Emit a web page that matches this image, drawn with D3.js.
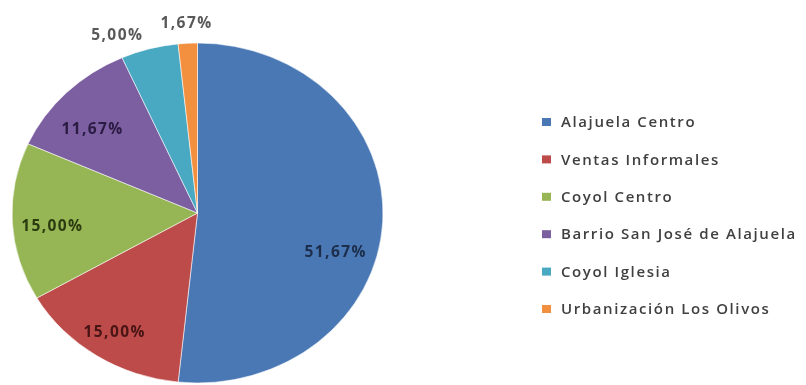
<!DOCTYPE html>
<html>
<head>
<meta charset="utf-8">
<script src="https://cdn.jsdelivr.net/npm/d3@7"></script>
<style>
  html, body { margin: 0; padding: 0; background: #fff; }
  svg { display: block; }
</style>
</head>
<body>
<svg id="chart" width="806" height="385"></svg>
<script>
// Distribution of responses by location (counts out of 60)
const categories = [
  "Alajuela Centro",
  "Ventas Informales",
  "Coyol Centro",
  "Barrio San José de Alajuela",
  "Coyol Iglesia",
  "Urbanización Los Olivos"
];
const counts = [31, 9, 9, 7, 3, 1];
const colors = ["#4A78B4", "#BC4B49", "#96B655", "#7C5EA0", "#48A8C2", "#F2903F"];
const labelColors = ["#1C2E4C", "#4A1414", "#2B3A10", "#2A1A42", "#595959", "#595959"];

const width = 806, height = 385;
const cx = 197.5, cy = 213, r = 170, sx = 1.091;   // pie is drawn slightly wider than tall

const svg = d3.select("#chart");

// soft rendering of the whole chart
const defs = svg.append("defs");
defs.append("filter").attr("id", "soft")
  .attr("x", "-5%").attr("y", "-5%").attr("width", "110%").attr("height", "110%")
  .append("feGaussianBlur").attr("stdDeviation", 0.45);

const root = svg.append("g").attr("filter", "url(#soft)");

const total = d3.sum(counts);
const pie = d3.pie().sort(null).value(d => d)(counts);
const arc = d3.arc().innerRadius(0).outerRadius(r);

const pieG = root.append("g")
  .attr("transform", `translate(${cx},${cy}) scale(${sx},1)`);

pieG.selectAll("path")
  .data(pie)
  .join("path")
  .attr("d", arc)
  .attr("fill", (d, i) => colors[i])
  .attr("stroke", "#ffffff")
  .attr("stroke-opacity", 0.6)
  .attr("stroke-width", 0.9);

// Data labels: inside for large slices, outside for the small ones
const insideArc = d3.arc().innerRadius(r * 0.8).outerRadius(r * 0.8);
const outsideArc = d3.arc().innerRadius(192).outerRadius(192);
const nudge = [[-10, 31], [-2, 5], [3, 5], [0, 12], [-26, 7], [0, 1]];
const fmt = v => (v / total * 100).toFixed(2).replace(".", ",") + "%";

root.append("g")
  .selectAll("text")
  .data(pie)
  .join("text")
  .attr("x", (d, i) => {
    const c = (d.value / total < 0.08 ? outsideArc : insideArc).centroid(d);
    return cx + c[0] * sx + nudge[i][0];
  })
  .attr("y", (d, i) => {
    const c = (d.value / total < 0.08 ? outsideArc : insideArc).centroid(d);
    return cy + c[1] + nudge[i][1];
  })
  .attr("dy", "0.35em")
  .attr("text-anchor", "middle")
  .attr("font-family", "'Open Sans', sans-serif")
  .attr("font-size", 15.5)
  .attr("font-weight", 700)
  .attr("letter-spacing", 1.4)
  .attr("fill", (d, i) => labelColors[i])
  .text(d => fmt(d.value));

// Legend
const legendY = d3.scalePoint().domain(categories).range([122, 309]);
const legend = root.append("g");
const rows = legend.selectAll("g")
  .data(categories)
  .join("g")
  .attr("transform", d => `translate(542,${legendY(d)})`);

rows.append("rect")
  .attr("x", 0).attr("y", -4)
  .attr("width", 9).attr("height", 8)
  .attr("fill", (d, i) => colors[i]);

rows.append("text")
  .attr("x", 19)
  .attr("dy", "0.35em")
  .attr("font-family", "'Open Sans', sans-serif")
  .attr("font-size", 15)
  .attr("font-weight", 600)
  .attr("letter-spacing", 1.6)
  .attr("fill", "#3F3F3F")
  .text(d => d);
</script>
</body>
</html>
